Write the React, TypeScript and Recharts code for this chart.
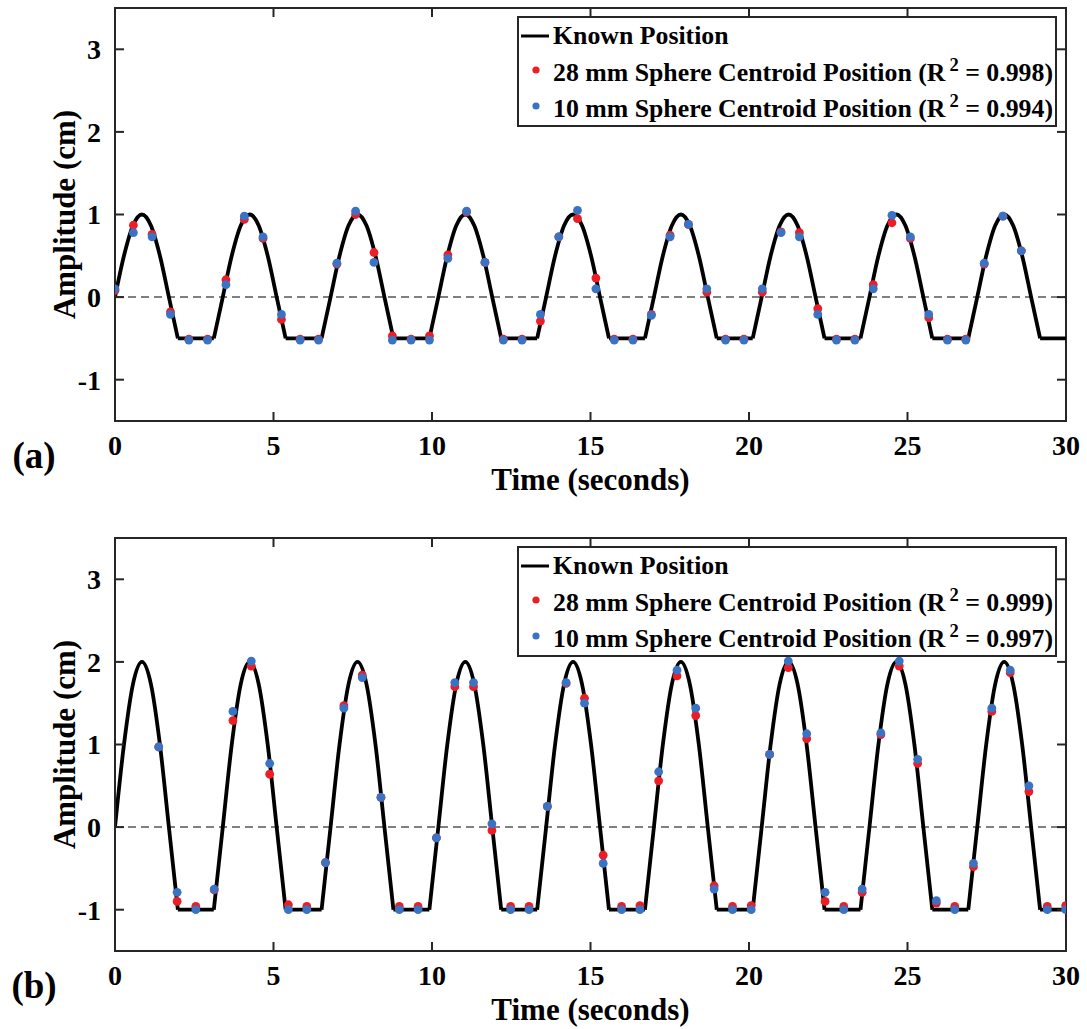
import React from 'react';
import {
  ComposedChart, Line, Scatter, XAxis, YAxis, ReferenceLine, ReferenceArea, CartesianGrid, Legend, Label,
} from 'recharts';

// ---------- data ----------
const N = null;
// knot times of the known (clipped sinusoid) position curve
const knownT = [
  0, 0.283, 0.567, 0.85, 1.133, 1.417, 1.7, 1.983, 2.55, 3.117,
  3.4, 3.683, 3.967, 4.25, 4.533, 4.817, 5.1, 5.383, 5.95, 6.517,
  6.8, 7.083, 7.367, 7.65, 7.933, 8.217, 8.5, 8.783, 9.35, 9.917,
  10.2, 10.483, 10.767, 11.05, 11.333, 11.617, 11.9, 12.183, 12.75, 13.317,
  13.6, 13.883, 14.167, 14.45, 14.733, 15.017, 15.3, 15.583, 16.15, 16.717,
  17, 17.283, 17.567, 17.85, 18.133, 18.417, 18.7, 18.983, 19.55, 20.117,
  20.4, 20.683, 20.967, 21.25, 21.533, 21.817, 22.1, 22.383, 22.95, 23.517,
  23.8, 24.083, 24.367, 24.65, 24.933, 25.217, 25.5, 25.783, 26.35, 26.917,
  27.2, 27.483, 27.767, 28.05, 28.333, 28.617, 28.9, 29.183, 30,
];
// rounded (moving) part of the known curve, panel (a)
const knownArcA = [
  0, 0.5, 0.866, 1, 0.866, 0.5, 0, -0.5, N, -0.5,
  0, 0.5, 0.866, 1, 0.866, 0.5, 0, -0.5, N, -0.5,
  0, 0.5, 0.866, 1, 0.866, 0.5, 0, -0.5, N, -0.5,
  0, 0.5, 0.866, 1, 0.866, 0.5, 0, -0.5, N, -0.5,
  0, 0.5, 0.866, 1, 0.866, 0.5, 0, -0.5, N, -0.5,
  0, 0.5, 0.866, 1, 0.866, 0.5, 0, -0.5, N, -0.5,
  0, 0.5, 0.866, 1, 0.866, 0.5, 0, -0.5, N, -0.5,
  0, 0.5, 0.866, 1, 0.866, 0.5, 0, -0.5, N, -0.5,
  0, 0.5, 0.866, 1, 0.866, 0.5, 0, -0.5, N,
];
// flat (resting) part of the known curve, panel (a)
const knownFlatA = [
  N, N, N, N, N, N, N, -0.5, -0.5, -0.5,
  N, N, N, N, N, N, N, -0.5, -0.5, -0.5,
  N, N, N, N, N, N, N, -0.5, -0.5, -0.5,
  N, N, N, N, N, N, N, -0.5, -0.5, -0.5,
  N, N, N, N, N, N, N, -0.5, -0.5, -0.5,
  N, N, N, N, N, N, N, -0.5, -0.5, -0.5,
  N, N, N, N, N, N, N, -0.5, -0.5, -0.5,
  N, N, N, N, N, N, N, -0.5, -0.5, -0.5,
  N, N, N, N, N, N, N, -0.5, -0.5,
];
const knownArcB = [
  0, 1, 1.732, 2, 1.732, 1, 0, -1, N, -1,
  0, 1, 1.732, 2, 1.732, 1, 0, -1, N, -1,
  0, 1, 1.732, 2, 1.732, 1, 0, -1, N, -1,
  0, 1, 1.732, 2, 1.732, 1, 0, -1, N, -1,
  0, 1, 1.732, 2, 1.732, 1, 0, -1, N, -1,
  0, 1, 1.732, 2, 1.732, 1, 0, -1, N, -1,
  0, 1, 1.732, 2, 1.732, 1, 0, -1, N, -1,
  0, 1, 1.732, 2, 1.732, 1, 0, -1, N, -1,
  0, 1, 1.732, 2, 1.732, 1, 0, -1, N,
];
const knownFlatB = [
  N, N, N, N, N, N, N, -1, -1, -1,
  N, N, N, N, N, N, N, -1, -1, -1,
  N, N, N, N, N, N, N, -1, -1, -1,
  N, N, N, N, N, N, N, -1, -1, -1,
  N, N, N, N, N, N, N, -1, -1, -1,
  N, N, N, N, N, N, N, -1, -1, -1,
  N, N, N, N, N, N, N, -1, -1, -1,
  N, N, N, N, N, N, N, -1, -1, -1,
  N, N, N, N, N, N, N, -1, -1,
];

// measured centroid samples, panel (a)
const sampleTA = [
  0, 0.58, 1.17, 1.75, 2.33, 2.92, 3.5, 4.08, 4.67, 5.25,
  5.84, 6.42, 7.0, 7.59, 8.17, 8.75, 9.34, 9.92, 10.5, 11.09,
  11.67, 12.25, 12.84, 13.42, 14.0, 14.59, 15.17, 15.75, 16.34, 16.92,
  17.51, 18.09, 18.67, 19.26, 19.84, 20.42, 21.01, 21.59, 22.17, 22.76,
  23.34, 23.92, 24.51, 25.09, 25.67, 26.26, 26.84, 27.42, 28.01, 28.59,
];
const red28A = [
  0.08, 0.87, 0.76, -0.18, -0.51, -0.51, 0.21, 0.94, 0.71, -0.27,
  -0.51, -0.51, 0.4, 1.0, 0.54, -0.47, -0.51, -0.47, 0.51, 1.03,
  0.42, -0.51, -0.51, -0.29, 0.73, 0.95, 0.23, -0.51, -0.51, -0.21,
  0.75, 0.88, 0.06, -0.51, -0.51, 0.06, 0.79, 0.78, -0.14, -0.51,
  -0.51, 0.15, 0.9, 0.71, -0.25, -0.51, -0.51, 0.4, 0.98, 0.56,
];
const blue10A = [
  0.1, 0.78, 0.73, -0.21, -0.52, -0.52, 0.15, 0.98, 0.73, -0.21,
  -0.52, -0.52, 0.41, 1.04, 0.42, -0.52, -0.52, -0.52, 0.47, 1.04,
  0.42, -0.52, -0.52, -0.21, 0.73, 1.05, 0.1, -0.52, -0.52, -0.22,
  0.73, 0.88, 0.1, -0.52, -0.52, 0.1, 0.78, 0.73, -0.21, -0.52,
  -0.52, 0.1, 0.99, 0.73, -0.21, -0.52, -0.52, 0.41, 0.98, 0.56,
];
// measured centroid samples, panel (b)
const sampleTB = [
  1.38, 1.96, 2.55, 3.13, 3.72, 4.3, 4.88, 5.47, 6.05, 6.64,
  7.22, 7.8, 8.39, 8.97, 9.56, 10.14, 10.72, 11.31, 11.89, 12.48,
  13.06, 13.64, 14.23, 14.81, 15.4, 15.98, 16.56, 17.15, 17.73, 18.32,
  18.9, 19.48, 20.07, 20.65, 21.24, 21.82, 22.4, 22.99, 23.57, 24.16,
  24.74, 25.32, 25.91, 26.49, 27.08, 27.66, 28.24, 28.83, 29.41, 29.99,
];
const red28B = [
  0.97, -0.9, -0.96, -0.76, 1.29, 1.95, 0.64, -0.94, -0.96, -0.43,
  1.47, 1.84, 0.36, -0.96, -0.96, -0.13, 1.7, 1.7, -0.04, -0.96,
  -0.96, 0.25, 1.74, 1.56, -0.34, -0.96, -0.95, 0.56, 1.83, 1.35,
  -0.71, -0.96, -0.95, 0.88, 1.93, 1.07, -0.9, -0.96, -0.79, 1.12,
  1.95, 0.77, -0.92, -0.96, -0.48, 1.4, 1.87, 0.43, -0.96, -0.95,
];
const blue10B = [
  0.97, -0.79, -1.0, -0.75, 1.4, 2.01, 0.77, -1.0, -1.0, -0.43,
  1.44, 1.81, 0.36, -1.0, -1.0, -0.13, 1.75, 1.75, 0.04, -1.0,
  -1.0, 0.25, 1.75, 1.5, -0.44, -1.0, -1.0, 0.67, 1.9, 1.44,
  -0.75, -1.0, -1.0, 0.88, 2.01, 1.13, -0.79, -1.0, -0.75, 1.14,
  2.01, 0.82, -0.89, -1.0, -0.44, 1.44, 1.9, 0.5, -1.0, -1.0,
];

const xTicks = [0, 5, 10, 15, 20, 25, 30];
const yTicks = [-1, 0, 1, 2, 3];
const xDomain = [0, 30];
const yDomain = [-1.5, 3.5];
const legendLabels = ['Known Position', '28 mm Sphere Centroid Position', '10 mm Sphere Centroid Position'];
const r2A = ['0.998', '0.994'];
const r2B = ['0.999', '0.997'];
const xTitle = 'Time (seconds)';
const yTitle = 'Amplitude (cm)';

// ---------- styles ----------
const FONT = '"Liberation Serif", "Times New Roman", Times, serif';
const AXIS = '#262626';
const RED = '#ee1d25';
const BLUE = '#3a72c4';
// inward tick length for the top / right box edges, in data units (about 9 px)
const TICK_LEN_X = 0.284;
const TICK_LEN_Y = 0.109;

function LegendBox({ r2 }: { r2: string[] }) {
  const row: React.CSSProperties = { display: 'flex', alignItems: 'center', height: 36.5, whiteSpace: 'nowrap' };
  const sup = (v: string) => (
    <>
      {' ('}R<span style={{ fontSize: '0.72em', position: 'relative', top: '-0.55em', marginLeft: 4 }}>2</span>
      {' = ' + v + ')'}
    </>
  );
  return (
    <div
      style={{
        boxSizing: 'border-box', width: 540, height: 111, border: `2px solid ${AXIS}`, background: '#fff',
        fontFamily: FONT, fontWeight: 700, fontSize: 25.8, color: '#000', lineHeight: 1,
      }}
    >
      <div style={row}>
        <svg width={34} height={10} style={{ flex: 'none' }}>
          <line x1={2} y1={5} x2={30} y2={5} stroke="#000" strokeWidth={3} />
        </svg>
        <span>{legendLabels[0]}</span>
      </div>
      <div style={row}>
        <svg width={34} height={12} style={{ flex: 'none', position: 'relative', top: -3 }}>
          <circle cx={17} cy={6} r={3.6} fill={RED} />
        </svg>
        <span>{legendLabels[1]}{sup(r2[0])}</span>
      </div>
      <div style={row}>
        <svg width={34} height={12} style={{ flex: 'none', position: 'relative', top: -3 }}>
          <circle cx={17} cy={6} r={3.6} fill={BLUE} />
        </svg>
        <span>{legendLabels[2]}{sup(r2[1])}</span>
      </div>
    </div>
  );
}

type PanelProps = {
  arc: (number | null)[];
  flat: (number | null)[];
  tS: number[];
  red: number[];
  blue: number[];
  r2: string[];
  letter: string;
  height: number;
};

function Panel({ arc, flat, tS, red, blue, r2, letter, height }: PanelProps) {
  const rows = knownT.map((t, i) => ({ t, arc: arc[i], flat: flat[i] }));
  const redData = tS.map((t, i) => ({ t, v: red[i] }));
  const blueData = tS.map((t, i) => ({ t, v: blue[i] }));
  const tickStyle = { fill: '#000', fontSize: 28, fontWeight: 700, fontFamily: FONT };
  const lineStyle = { stroke: AXIS, strokeWidth: 2 };
  const xAxisHeight = height - 421;
  const xMax = xDomain[1];
  const yMax = yDomain[1];
  return (
    <ComposedChart width={1087} height={height} margin={{ top: 8, right: 21, bottom: 0, left: 0 }}>
      {/* top and right edges of the axes box */}
      <CartesianGrid
        stroke={AXIS} strokeWidth={2} fill="none"
        horizontalCoordinatesGenerator={(p: any) => [p.offset.top]}
        verticalCoordinatesGenerator={(p: any) => [p.offset.left + p.offset.width]}
      />
      <XAxis
        dataKey="t" type="number" domain={xDomain} allowDataOverflow ticks={xTicks} interval={0}
        height={xAxisHeight} tickSize={-9} tickMargin={23} axisLine={lineStyle} tickLine={lineStyle} tick={tickStyle}
      >
        <Label
          content={() => (
            <text x={590.5} y={490} textAnchor="middle" fontFamily={FONT} fontWeight={700} fontSize={31} fill="#000">
              {xTitle}
            </text>
          )}
        />
        <Label
          content={() => (
            <text x={34} y={468} textAnchor="middle" fontFamily={FONT} fontWeight={700} fontSize={37} fill="#000">
              {letter}
            </text>
          )}
        />
      </XAxis>
      <YAxis
        type="number" domain={yDomain} allowDataOverflow ticks={yTicks} interval={0} width={115}
        tickSize={-9} tickMargin={23} axisLine={lineStyle} tickLine={lineStyle} tick={tickStyle}
      >
        <Label
          content={() => (
            <text
              x={75} y={214.5} transform="rotate(-90, 75, 214.5)" textAnchor="middle"
              fontFamily={FONT} fontWeight={700} fontSize={31} fill="#000"
            >
              {yTitle}
            </text>
          )}
        />
      </YAxis>
      <ReferenceLine y={0} stroke="#808080" strokeWidth={2} strokeDasharray="8 5" />
      <Line
        data={rows} dataKey="arc" type="monotone" stroke="#000" strokeWidth={3.8} dot={false} activeDot={false}
        isAnimationActive={false} legendType="none"
      />
      <Line
        data={rows} dataKey="flat" type="linear" stroke="#000" strokeWidth={3.8} dot={false} activeDot={false}
        isAnimationActive={false} legendType="none"
      />
      <Scatter
        data={redData} dataKey="v" isAnimationActive={false}
        shape={(p: any) => <circle cx={p.cx} cy={p.cy} r={4.4} fill={RED} />}
      />
      <Scatter
        data={blueData} dataKey="v" isAnimationActive={false}
        shape={(p: any) => <circle cx={p.cx} cy={p.cy} r={4.4} fill={BLUE} />}
      />
      <ReferenceArea
        x1={xDomain[0]} x2={xDomain[1]} y1={yDomain[0]} y2={yDomain[1]}
        fill="transparent" fillOpacity={0} stroke={AXIS} strokeWidth={2}
      />
      {/* inward ticks on the top edge */}
      {xTicks.map((x) => (
        <ReferenceLine
          key={'tx' + x} stroke={AXIS} strokeWidth={2}
          segment={[{ x, y: yMax }, { x, y: yMax - TICK_LEN_Y }]}
        />
      ))}
      {/* inward ticks on the right edge */}
      {yTicks.map((y) => (
        <ReferenceLine
          key={'ty' + y} stroke={AXIS} strokeWidth={2}
          segment={[{ x: xMax, y }, { x: xMax - TICK_LEN_X, y }]}
        />
      ))}
      <Legend
        layout="horizontal" verticalAlign="middle" align="center"
        wrapperStyle={{ left: 517, top: 16, width: 540, height: 111 }}
        content={() => <LegendBox r2={r2} />}
      />
    </ComposedChart>
  );
}

export default function App() {
  return (
    <div style={{ position: 'absolute', left: 0, top: 0, width: 1087, height: 1029, background: '#fff' }}>
      <div style={{ position: 'absolute', left: 0, top: 0 }}>
        <Panel arc={knownArcA} flat={knownFlatA} tS={sampleTA} red={red28A} blue={blue10A} r2={r2A} letter="(a)" height={515} />
      </div>
      <div style={{ position: 'absolute', left: 0, top: 530 }}>
        <Panel arc={knownArcB} flat={knownFlatB} tS={sampleTB} red={red28B} blue={blue10B} r2={r2B} letter="(b)" height={499} />
      </div>
    </div>
  );
}
